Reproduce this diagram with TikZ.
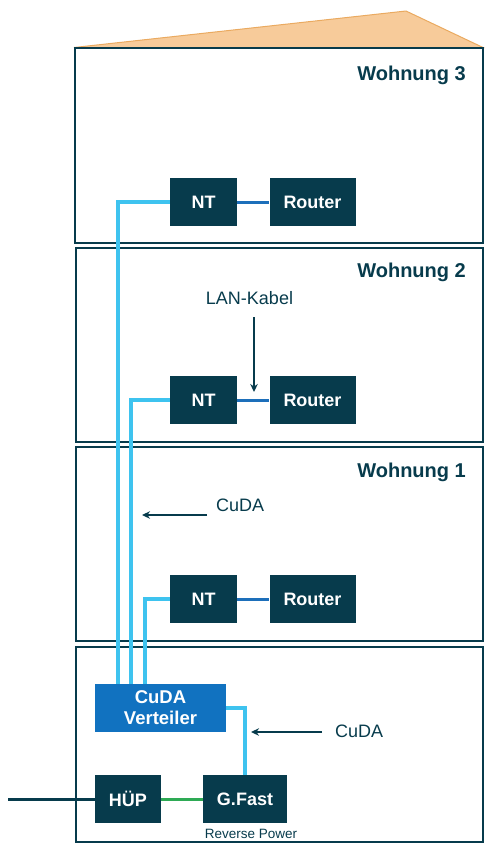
\documentclass[tikz,border=0pt]{standalone}
\usepackage{fontspec}
\setmainfont{Liberation Sans}
\usetikzlibrary{arrows.meta}
\definecolor{dteal}{HTML}{073B4C}
\definecolor{cyanl}{HTML}{3EC3EF}
\definecolor{lanblue}{HTML}{1D6FBA}
\definecolor{vblue}{HTML}{1172C0}
\definecolor{gfgreen}{HTML}{2EAA55}
\definecolor{roof}{HTML}{F7CB9A}
\definecolor{roofedge}{HTML}{EAAA60}
\tikzset{
  floorbox/.style={draw=dteal, line width=1.1pt},
  devbox/.style={fill=dteal, text=white, font=\fontsize{18}{20}\selectfont\bfseries, inner sep=0pt, minimum height=48pt},
  title/.style={text=dteal, font=\fontsize{20}{22}\selectfont\bfseries, anchor=east, inner sep=0pt},
  lbl/.style={text=dteal, font=\fontsize{18}{20}\selectfont, inner sep=0pt},
  cuda/.style={draw=cyanl, line width=4.5pt},
  lan/.style={draw=lanblue, line width=3pt},
  pointer/.style={draw=dteal, line width=1.3pt, -{Stealth[length=8pt,width=7.5pt]}},
}
\begin{document}
\begin{tikzpicture}[x=1pt,y=-1pt]
\useasboundingbox (0,0) rectangle (494,852);
% roof
\filldraw[fill=roof, draw=roofedge, line width=1pt] (74,47.5) -- (406,11) -- (483,47.5) -- cycle;
% floors
\draw[floorbox] (75,48) rectangle (483,243);
\draw[floorbox] (76,248) rectangle (483,442);
\draw[floorbox] (76,447) rectangle (483,641);
\draw[floorbox] (76,647) rectangle (483,842);
% titles
\node[title] (t3) at (466,75) {Wohnung 3};
\node[title] (t2) at (466,272) {Wohnung 2};
\node[title] (t1) at (466,472) {Wohnung 1};
% devices
\node[devbox, minimum width=67pt] (nt3) at (203.5,202) {NT};
\node[devbox, minimum width=86pt] (r3) at (312.5,202) {Router};
\node[devbox, minimum width=67pt] (nt2) at (203.5,400) {NT};
\node[devbox, minimum width=86pt] (r2) at (312.5,400) {Router};
\node[devbox, minimum width=67pt] (nt1) at (203.5,599) {NT};
\node[devbox, minimum width=86pt] (r1) at (312.5,599) {Router};
\node[devbox, fill=vblue, minimum width=131pt, align=center, font=\fontsize{18.5}{21}\selectfont\bfseries] (vert) at (160.5,708) {CuDA\\Verteiler};
\node[devbox, minimum width=66pt] (hup) at (128,799) {HÜP};
\node[devbox, minimum width=84pt] (gf) at (245,799) {G.Fast};
\node[text=dteal, font=\fontsize{13.5}{15}\selectfont, inner sep=0pt] (rp) at (251,834) {Reverse Power};
% CuDA lines
\draw[cuda] ([xshift=-42.5pt]vert.north) |- (nt3.west);
\draw[cuda] ([xshift=-29.5pt]vert.north) |- (nt2.west);
\draw[cuda] ([xshift=-15.5pt]vert.north) |- (nt1.west);
\draw[cuda] (vert.east) -| (gf.north);
% LAN lines
\draw[lan] (nt3.east) -- (r3.west);
\draw[lan] (nt2.east) -- (r2.west);
\draw[lan] (nt1.east) -- (r1.west);
% house connection
\coordinate (ext) at (8,799);
\draw[dteal, line width=3pt] (ext) -- (hup.west);
\draw[gfgreen, line width=3pt] (hup.east) -- (gf.west);
% labels and pointers
\node[lbl] (lanl) at (249.5,298) {LAN-Kabel};
\coordinate (lanA) at (254,317);
\coordinate (lanB) at (254,392);
\draw[pointer] (lanA) -- (lanB);
\node[lbl, anchor=west] (cl1) at (216,505) {CuDA};
\coordinate (c1A) at (207,515);
\coordinate (c1B) at (142,515);
\draw[pointer] (c1A) -- (c1B);
\node[lbl, anchor=west] (cl0) at (335,731) {CuDA};
\coordinate (c0A) at (322,732);
\coordinate (c0B) at (251,732);
\draw[pointer] (c0A) -- (c0B);
\end{tikzpicture}
\end{document}
